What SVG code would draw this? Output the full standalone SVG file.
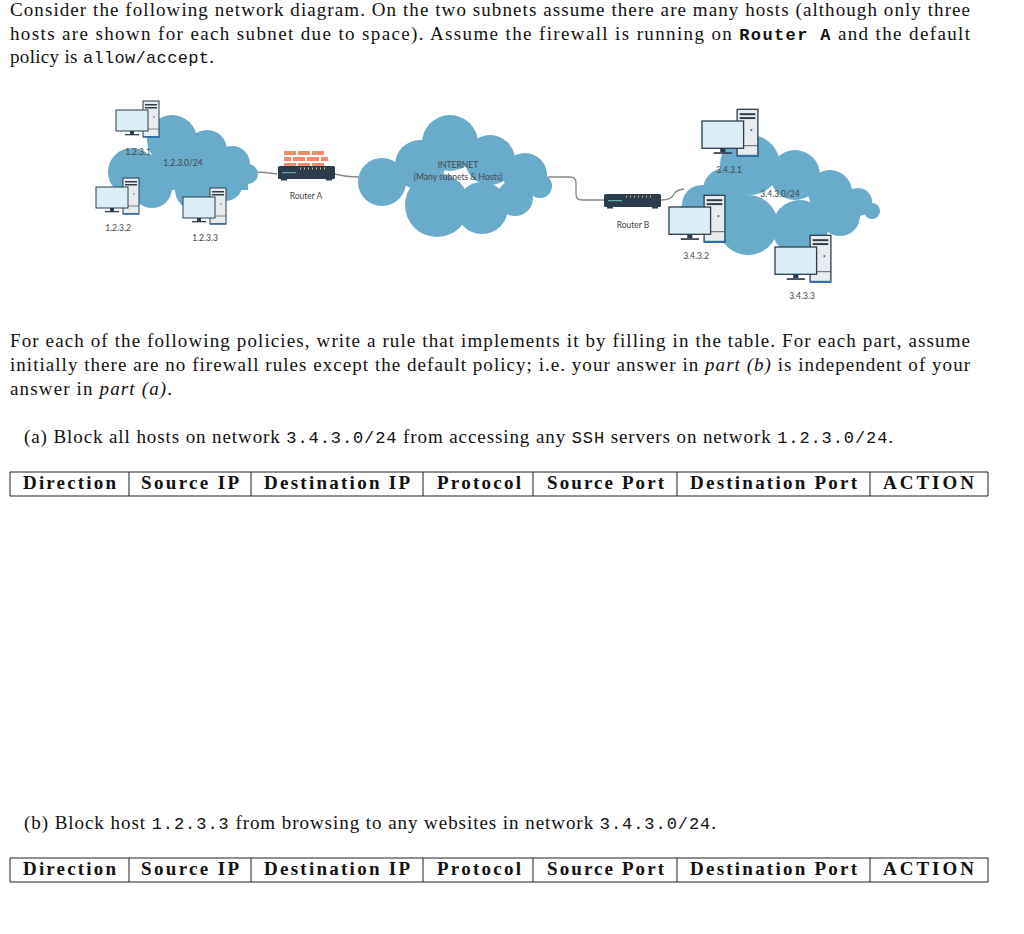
<svg xmlns="http://www.w3.org/2000/svg" width="1024" height="934" viewBox="0 0 1024 934">
<style>
.t{font-family:"Liberation Serif",serif;font-size:19px;fill:#111}
.m{font-family:"Liberation Mono",monospace;font-size:17px}
.h{font-family:"Liberation Serif",serif;font-size:19px;font-weight:bold;fill:#111}
.s{font-family:Lato,"Liberation Sans",sans-serif;font-size:8.5px;fill:#444}
.cl{fill:#69abcb}
.ln{fill:none;stroke:#888;stroke-width:1.3}
.tb{fill:none;stroke:#222;stroke-width:1}
</style>
<defs>
<g id="pc">
<rect x="27" y="-9" width="16" height="36" fill="#e9ecee" stroke="#2b3d4d" stroke-width="1"/>
<rect x="29" y="-6" width="12" height="1.5" fill="#2b3d4d"/>
<rect x="29" y="-3" width="12" height="1.5" fill="#2b3d4d"/>
<line x1="27" y1="19" x2="43" y2="19" stroke="#2b3d4d" stroke-width="0.6"/>
<rect x="27" y="26" width="16" height="1.5" fill="#2d6fb0"/>
<circle cx="38" cy="7" r="0.8" fill="#2d6fb0"/>
<rect x="0" y="0" width="32" height="21" fill="#dbeef6" stroke="#2b3d4d" stroke-width="1"/>
<rect x="14" y="21" width="4" height="3" fill="#2b3d4d"/>
<rect x="9" y="24" width="14" height="1.3" fill="#2b3d4d"/>
</g>
<g id="router">
<rect x="0" y="0" width="57" height="13" rx="1.5" fill="#2b3d4d"/>
<rect x="4" y="6" width="14" height="1.2" fill="#6aa"/>
<g fill="#d9b46a"><rect x="22" y="1.5" width="1" height="2"/><rect x="26" y="1.5" width="1" height="2"/><rect x="30" y="1.5" width="1" height="2"/><rect x="34" y="1.5" width="1" height="2"/><rect x="38" y="1.5" width="1" height="2"/><rect x="42" y="1.5" width="1" height="2"/><rect x="46" y="1.5" width="1" height="2"/></g>
<rect x="3" y="13" width="6" height="1.5" fill="#2b3d4d"/><rect x="48" y="13" width="6" height="1.5" fill="#2b3d4d"/>
</g>
</defs>

<g id="text">
<text class="t" x="10" y="16" textLength="960" lengthAdjust="spacing">Consider the following network diagram. On the two subnets assume there are many hosts (although only three</text>
<text class="t" x="10" y="40" textLength="960" lengthAdjust="spacing">hosts are shown for each subnet due to space). Assume the firewall is running on <tspan class="m" font-weight="bold">Router A</tspan> and the default</text>
<text class="t" x="10" y="63" textLength="204" lengthAdjust="spacing">policy is <tspan class="m">allow/accept</tspan>.</text>
<text class="t" x="10" y="347" textLength="960" lengthAdjust="spacing">For each of the following policies, write a rule that implements it by filling in the table. For each part, assume</text>
<text class="t" x="10" y="371" textLength="960" lengthAdjust="spacing">initially there are no firewall rules except the default policy; i.e. your answer in <tspan font-style="italic">part (b)</tspan> is independent of your</text>
<text class="t" x="10" y="395" textLength="162" lengthAdjust="spacing">answer in <tspan font-style="italic">part (a)</tspan>.</text>
<text class="t" x="24" y="443" textLength="869" lengthAdjust="spacing">(a) Block all hosts on network <tspan class="m">3.4.3.0/24</tspan> from accessing any <tspan class="m">SSH</tspan> servers on network <tspan class="m">1.2.3.0/24</tspan>.</text>
<text class="t" x="24" y="829" textLength="692" lengthAdjust="spacing">(b) Block host <tspan class="m">1.2.3.3</tspan> from browsing to any websites in network <tspan class="m">3.4.3.0/24</tspan>.</text>
</g>

<g id="table-a">
<path class="tb" d="M10 472H988M10 496H988M10 472V496M129 472V496M251 472V496M423 472V496M533 472V496M677 472V496M870 472V496M988 472V496"/>
<text class="h" x="23" y="489" textLength="93">Direction</text><text class="h" x="141" y="489" textLength="98">Source IP</text><text class="h" x="264" y="489" textLength="146">Destination IP</text><text class="h" x="437" y="489" textLength="84">Protocol</text><text class="h" x="547" y="489" textLength="117">Source Port</text><text class="h" x="690" y="489" textLength="167">Destination Port</text><text class="h" x="883" y="489" textLength="91">ACTION</text>
</g>
<g id="table-b">
<path class="tb" d="M10 858H988M10 882H988M10 858V882M129 858V882M251 858V882M423 858V882M533 858V882M677 858V882M870 858V882M988 858V882"/>
<text class="h" x="23" y="875" textLength="93">Direction</text><text class="h" x="141" y="875" textLength="98">Source IP</text><text class="h" x="264" y="875" textLength="146">Destination IP</text><text class="h" x="437" y="875" textLength="84">Protocol</text><text class="h" x="547" y="875" textLength="117">Source Port</text><text class="h" x="690" y="875" textLength="167">Destination Port</text><text class="h" x="883" y="875" textLength="91">ACTION</text>
</g>

<g id="connectors">
<path class="ln" d="M253 172 Q265 172 277 174"/>
<path class="ln" d="M335 174 Q346 177 360 177"/>
<path class="ln" d="M548 177 H570 Q576 177 576 183 V194 Q576 200 582 200 H604"/>
<path class="ln" d="M661 200 Q672 200 674 194 Q676 190 684 189"/>
</g>

<g id="cloud-left" class="cl">
<circle cx="132" cy="172" r="24"/><circle cx="172" cy="140" r="25"/><circle cx="207" cy="150" r="20"/><circle cx="232" cy="164" r="18"/><circle cx="248" cy="174" r="10"/><circle cx="152" cy="188" r="20"/><circle cx="195" cy="190" r="20"/><circle cx="225" cy="183" r="18"/><rect x="120" y="155" width="128" height="35"/>
</g>
<g id="cloud-internet" class="cl">
<circle cx="450" cy="143" r="28"/><circle cx="490" cy="160" r="25"/><circle cx="420" cy="165" r="25"/><circle cx="382" cy="182" r="24"/><circle cx="525" cy="175" r="22"/><circle cx="540" cy="186" r="12"/><circle cx="437" cy="205" r="32"/><circle cx="482" cy="208" r="26"/><circle cx="515" cy="198" r="18"/>
</g>
<g id="cloud-right" class="cl">
<circle cx="750" cy="165" r="30"/><circle cx="795" cy="175" r="25"/><circle cx="830" cy="192" r="22"/><circle cx="858" cy="202" r="14"/><circle cx="872" cy="211" r="8"/><circle cx="702" cy="205" r="20"/><circle cx="725" cy="190" r="22"/><circle cx="748" cy="225" r="30"/><circle cx="800" cy="228" r="28"/><circle cx="840" cy="216" r="20"/><circle cx="692" cy="215" r="14"/>
</g>

<g id="router-a">
<g fill="#f08c6a"><rect x="284" y="151" width="12" height="4"/><rect x="298" y="151" width="12" height="4"/><rect x="312" y="151" width="12" height="4"/><rect x="284" y="157" width="7" height="4"/><rect x="293" y="157" width="12" height="4"/><rect x="307" y="157" width="12" height="4"/><rect x="321" y="157" width="7" height="4"/><rect x="284" y="163" width="12" height="3"/><rect x="298" y="163" width="12" height="3"/><rect x="312" y="163" width="12" height="3"/></g>
<use href="#router" x="278" y="166"/>
<text class="s" x="306" y="199" text-anchor="middle">Router A</text>
</g>
<g id="router-b"><use href="#router" x="604" y="194"/><text class="s" x="633" y="228" text-anchor="middle">Router B</text></g>
<g id="internet-label"><text class="s" x="458" y="168" text-anchor="middle">INTERNET</text><text class="s" x="458" y="180" text-anchor="middle">(Many subnets &amp; Hosts)</text></g>
<g id="subnet-labels"><text class="s" x="183" y="166" text-anchor="middle">1.2.3.0/24</text><text class="s" x="780" y="197" text-anchor="middle">3.4.3.0/24</text></g>

<g id="host-1231"><use href="#pc" transform="translate(116,110)"/><text class="s" x="138" y="155" text-anchor="middle">1.2.3.1</text></g>
<g id="host-1232"><use href="#pc" transform="translate(96,187)"/><text class="s" x="118" y="231" text-anchor="middle">1.2.3.2</text></g>
<g id="host-1233"><use href="#pc" transform="translate(183,197)"/><text class="s" x="205" y="241" text-anchor="middle">1.2.3.3</text></g>
<g id="host-3431"><use href="#pc" transform="translate(702,121) scale(1.3)"/><text class="s" x="729" y="173" text-anchor="middle">3.4.3.1</text></g>
<g id="host-3432"><use href="#pc" transform="translate(669,207) scale(1.3)"/><text class="s" x="696" y="259" text-anchor="middle">3.4.3.2</text></g>
<g id="host-3433"><use href="#pc" transform="translate(775,247) scale(1.3)"/><text class="s" x="802" y="299" text-anchor="middle">3.4.3.3</text></g>
</svg>
